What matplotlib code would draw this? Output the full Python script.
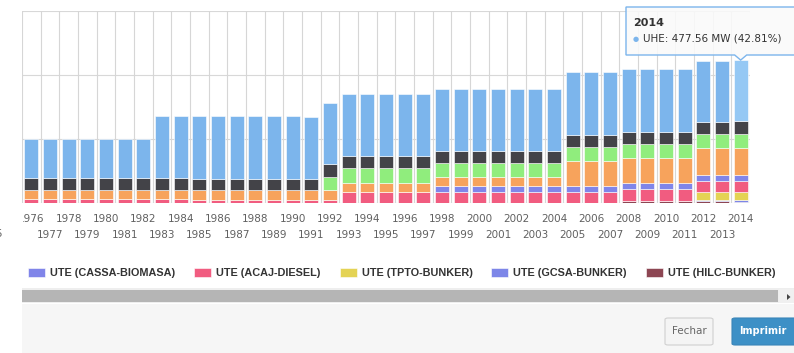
import numpy as np
import matplotlib
matplotlib.use("Agg")
import matplotlib.pyplot as plt
from matplotlib.patches import Rectangle, Polygon, FancyBboxPatch
from matplotlib.transforms import Bbox, TransformedBbox

W, H = 794, 353

years = list(range(1976, 2015))

# installed capacity per plant group, MW
uhe = [303, 303, 303, 303, 303, 303, 303, 485, 485, 495,
       495, 495, 495, 495, 492, 488, 485, 485, 485, 485,
       485, 485, 488, 488, 488, 488, 488, 488, 488, 491,
       491, 491, 486, 486, 486, 486, 480, 480, 477.56]
ute_a = [92, 92, 92, 92, 92, 92, 92, 92, 92, 88,
         88, 88, 88, 88, 88, 88, 96, 96, 96, 96,
         96, 96, 94, 94, 94, 94, 94, 94, 94, 92,
         92, 92, 94, 94, 94, 94, 96, 96, 98]
ute_b = [0, 0, 0, 0, 0, 0, 0, 0, 0, 0,
         0, 0, 0, 0, 0, 0, 104, 112, 112, 112,
         112, 112, 112, 112, 112, 112, 112, 112, 112, 112,
         112, 112, 112, 112, 112, 112, 110, 110, 112]
ute_c = [70, 70, 70, 70, 70, 70, 70, 70, 70, 76,
         76, 76, 76, 76, 76, 76, 78, 70, 70, 70,
         70, 70, 65, 65, 65, 65, 65, 65, 65, 193,
         193, 193, 201, 201, 201, 201, 209, 209, 212]
cassa = [0, 0, 0, 0, 0, 0, 0, 0, 0, 0,
         0, 0, 0, 0, 0, 0, 0, 0, 0, 0,
         0, 0, 47, 47, 47, 47, 47, 47, 47, 47,
         47, 47, 47, 47, 47, 47, 47, 47, 47]
acaj = [31, 31, 31, 31, 31, 31, 31, 31, 31, 20,
        20, 20, 20, 20, 20, 20, 20, 86, 86, 86,
        86, 86, 86, 86, 86, 86, 86, 86, 86, 86,
        86, 86, 92, 92, 92, 92, 84, 84, 86]
tpto = [0, 0, 0, 0, 0, 0, 0, 0, 0, 0,
        0, 0, 0, 0, 0, 0, 0, 0, 0, 0,
        0, 0, 0, 0, 0, 0, 0, 0, 0, 0,
        0, 0, 0, 0, 0, 0, 65, 65, 66]
gcsa = [0, 0, 0, 0, 0, 0, 0, 0, 0, 0,
        0, 0, 0, 0, 0, 0, 0, 0, 0, 0,
        0, 0, 0, 0, 0, 0, 0, 0, 0, 0,
        0, 0, 0, 0, 0, 0, 10, 10, 10]
hilc = [0, 0, 0, 0, 0, 0, 0, 0, 0, 0,
        0, 0, 0, 0, 0, 0, 0, 0, 0, 0,
        0, 0, 0, 0, 0, 0, 0, 0, 0, 0,
        0, 0, 10, 10, 10, 10, 8, 8, 7]

# bottom -> top
stack = [
    ("UTE (HILC-BUNKER)", hilc, "#8d4653"),
    ("UTE (GCSA-BUNKER)", gcsa, "#7d86e8"),
    ("UTE (TPTO-BUNKER)", tpto, "#e4d354"),
    ("UTE (ACAJ-DIESEL)", acaj, "#f15c80"),
    ("UTE (CASSA-BIOMASA)", cassa, "#8085e9"),
    (None, ute_c, "#f7a35c"),
    (None, ute_b, "#90ed7d"),
    (None, ute_a, "#434348"),
    ("UHE", uhe, "#7cb5ec"),
]


def fx(x):
    return x / W


def fy(y):
    return 1 - y / H


fig = plt.figure(figsize=(W / 100, H / 100), dpi=100)
ax = fig.add_axes([fx(22), fy(202.5), (750 - 22) / W, (202.5 - 11) / H])

x = np.arange(len(years))
bottom = np.zeros(len(years))
handles = {}
for name, vals, color in stack:
    vals = np.array(vals, dtype=float)
    bars = ax.bar(x, vals, width=0.75, bottom=bottom, color=color,
                  edgecolor="white", linewidth=0.4, zorder=3)
    handles[name] = bars
    bottom += vals
totals = bottom

# hovered point
handles["UHE"][-1].set_facecolor("#95c8f4")

ax.set_xlim(-0.5, len(years) - 0.5)
ax.set_ylim(0, 1500)
for s in ax.spines.values():
    s.set_visible(False)
ax.set_yticks([0, 500, 1000, 1500])
ax.set_yticklabels([])
ax.tick_params(axis="y", length=0)
ax.yaxis.grid(True, color="#d8d8d8", linewidth=0.8)
ax.set_axisbelow(True)
ax.vlines(np.arange(len(years) + 1) - 0.5, 0, 1500, color="#d6d6d6",
          linewidth=0.8, zorder=1)

# staggered year labels
ax.set_xticks(x[::2])
ax.set_xticklabels([str(y) for y in years[::2]])
ax.set_xticks(x[1::2], minor=True)
ax.set_xticklabels([str(y) for y in years[1::2]], minor=True)
ax.tick_params(axis="x", which="major", length=0, pad=8, labelsize=7.5,
               labelcolor="#606060")
ax.tick_params(axis="x", which="minor", length=0, pad=20, labelsize=7.5,
               labelcolor="#606060")
clip = TransformedBbox(Bbox([[fx(22.5), 0], [1, 1]]), fig.transFigure)
for lab in ax.get_xticklabels() + ax.get_xticklabels(minor=True):
    lab.set_clip_box(clip)
    lab.set_clip_on(True)
fig.text(fx(3), fy(234), "1975", ha="right", va="center", fontsize=7.5,
         color="#606060")

# legend
leg_names = ["UTE (CASSA-BIOMASA)", "UTE (ACAJ-DIESEL)", "UTE (TPTO-BUNKER)",
             "UTE (GCSA-BUNKER)", "UTE (HILC-BUNKER)"]
fs = 7.8
em = fs * 100 / 72
fig.legend([handles[n] for n in leg_names], leg_names, loc="center left",
           bbox_to_anchor=(fx(28), fy(273)), ncol=5, frameon=False,
           borderpad=0, borderaxespad=0, handlelength=17 / em,
           handleheight=10 / em, handletextpad=5 / em,
           columnspacing=19 / em,
           prop={"family": "Liberation Sans", "weight": "bold", "size": fs})
for t in fig.legends[0].get_texts():
    t.set_color("#333333")


def box(x0, y0, x1, y1, **kw):
    r = Rectangle((fx(x0), fy(y1)), (x1 - x0) / W, (y1 - y0) / H,
                  transform=fig.transFigure, **kw)
    fig.add_artist(r)
    return r


# scrollbar
box(22, 288, 794, 303, facecolor="#eeeeee", edgecolor="none")
box(22, 290, 778, 302, facecolor="#b5b5b5", edgecolor="none")
box(779, 289, 794, 303, facecolor="#f0f0f0", edgecolor="none")
fig.add_artist(Polygon([(fx(787), fy(294)), (fx(787), fy(300)), (fx(790.5), fy(297))],
                       closed=True, transform=fig.transFigure,
                       facecolor="#444444", edgecolor="none"))

# footer with buttons
box(22, 304, 794, 353, facecolor="#f6f6f6", edgecolor="none")
fig.add_artist(FancyBboxPatch((fx(665), fy(345)), 48 / W, 27 / H,
                              boxstyle="round,pad=0,rounding_size=0.004",
                              transform=fig.transFigure, facecolor="#f4f4f4",
                              edgecolor="#d0d0d0", linewidth=0.8))
fig.text(fx(689), fy(331.5), "Fechar", ha="center", va="center", fontsize=7.5,
         color="#666666")
fig.add_artist(FancyBboxPatch((fx(732), fy(345)), 70 / W, 27 / H,
                              boxstyle="round,pad=0,rounding_size=0.004",
                              transform=fig.transFigure, facecolor="#3d90c6",
                              edgecolor="#3a85b8", linewidth=0.8))
fig.text(fx(763), fy(331.5), "Imprimir", ha="center", va="center", fontsize=7,
         color="white", fontweight="bold")

# tooltip for the last column
tip = fig.transFigure.inverted().transform(
    ax.transData.transform((x[-1], totals[-1])))
tx, ty = tip[0] * W, (1 - tip[1]) * H
pts = [(626, 7), (800, 7), (800, 55), (tx + 6, 55), (tx, ty), (tx - 6, 55), (626, 55)]
fig.add_artist(Polygon([(fx(a), fy(b)) for a, b in pts], closed=True,
                       transform=fig.transFigure, facecolor=(0.98, 0.98, 0.98, 0.88),
                       edgecolor="#7cb5ec", linewidth=1, zorder=5))
fig.text(fx(633), fy(23), str(years[-1]), ha="left", va="center", fontsize=8,
         fontweight="bold", color="#333333", zorder=6)
share = uhe[-1] / totals[-1] * 100
fig.text(fx(633), fy(38.5), "\u25CF", ha="left", va="center", fontsize=5,
         color="#7cb5ec", zorder=6)
fig.text(fx(643), fy(38.5), f"UHE: {uhe[-1]:.2f} MW ({share:.2f}%)", ha="left",
         va="center", fontsize=7.5, color="#333333", zorder=6)

fig.savefig("out.png", dpi=100)
